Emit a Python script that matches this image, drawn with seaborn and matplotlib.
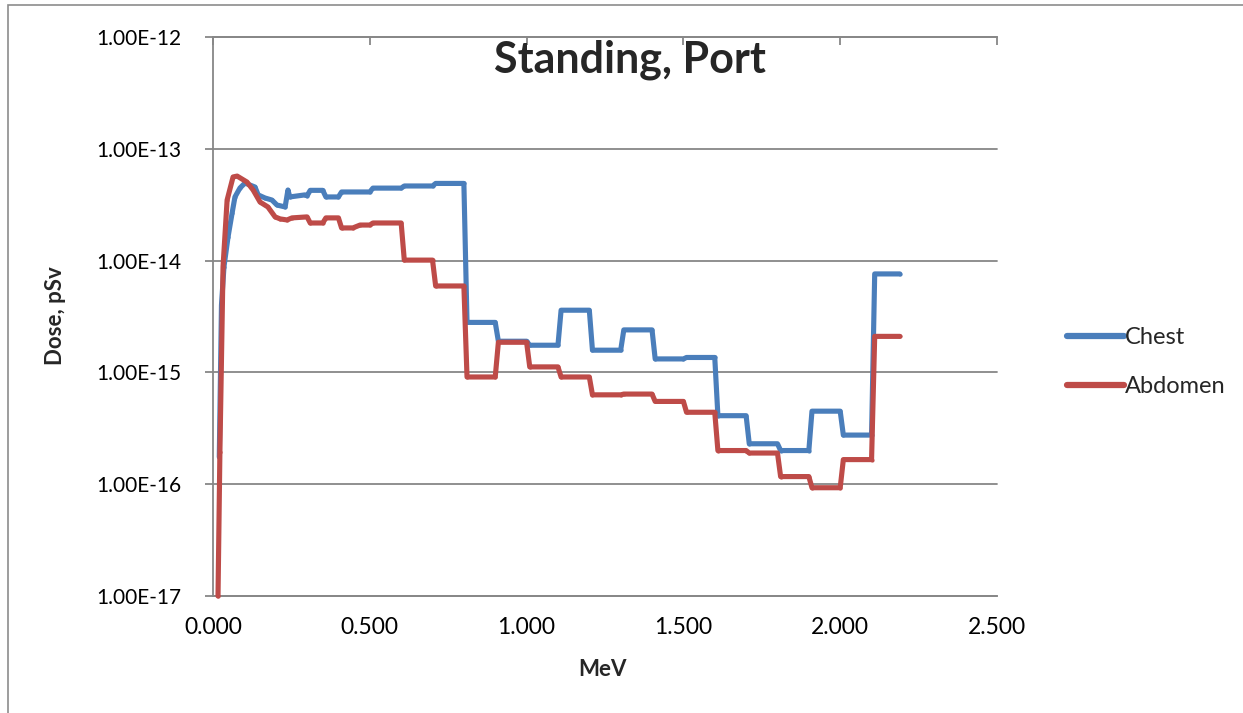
import matplotlib
matplotlib.use("Agg")
import matplotlib.pyplot as plt
import matplotlib.ticker as mticker
from matplotlib.patches import Rectangle
import seaborn as sns
import pandas as pd

# ---- data ----
chest_energy = [0.020, 0.027, 0.035, 0.048, 0.061, 0.070, 0.086, 0.102, 0.118, 0.134,
                0.144, 0.166, 0.188, 0.204, 0.230, 0.239, 0.245, 0.293, 0.300, 0.310,
                0.350, 0.360, 0.400, 0.410, 0.500, 0.510, 0.600, 0.610, 0.700, 0.710,
                0.800, 0.810, 0.900, 0.910, 1.000, 1.010, 1.100, 1.110, 1.200, 1.210,
                1.300, 1.310, 1.400, 1.410, 1.500, 1.510, 1.600, 1.610, 1.700, 1.710,
                1.800, 1.810, 1.900, 1.910, 2.000, 2.010, 2.100, 2.110, 2.190]
chest_dose = [1.75e-16, 4.0e-15, 8.8e-15, 1.63e-14, 2.67e-14, 3.71e-14, 4.46e-14, 4.94e-14, 4.74e-14, 4.55e-14,
              3.87e-14, 3.63e-14, 3.48e-14, 3.14e-14, 3.02e-14, 4.28e-14, 3.71e-14, 3.87e-14, 3.80e-14, 4.25e-14,
              4.25e-14, 3.71e-14, 3.71e-14, 4.11e-14, 4.11e-14, 4.45e-14, 4.45e-14, 4.65e-14, 4.65e-14, 4.90e-14,
              4.90e-14, 2.80e-15, 2.80e-15, 1.90e-15, 1.90e-15, 1.75e-15, 1.75e-15, 3.60e-15, 3.60e-15, 1.58e-15,
              1.58e-15, 2.40e-15, 2.40e-15, 1.32e-15, 1.32e-15, 1.36e-15, 1.36e-15, 4.10e-16, 4.10e-16, 2.30e-16,
              2.30e-16, 2.00e-16, 2.00e-16, 4.50e-16, 4.50e-16, 2.75e-16, 2.75e-16, 7.60e-15, 7.60e-15]

abdomen_energy = [0.016, 0.022, 0.032, 0.045, 0.064, 0.077, 0.108, 0.128, 0.150, 0.175,
                  0.198, 0.214, 0.236, 0.252, 0.300, 0.310, 0.350, 0.360, 0.400, 0.410,
                  0.446, 0.469, 0.500, 0.510, 0.600, 0.610, 0.700, 0.710, 0.800, 0.810,
                  0.900, 0.910, 1.000, 1.010, 1.100, 1.110, 1.200, 1.210, 1.300, 1.310,
                  1.400, 1.410, 1.500, 1.510, 1.600, 1.610, 1.700, 1.710, 1.800, 1.810,
                  1.900, 1.910, 2.000, 2.010, 2.100, 2.110, 2.190]
abdomen_dose = [1.0e-17, 1.94e-16, 8.8e-15, 3.48e-14, 5.6e-14, 5.7e-14, 5.05e-14, 4.28e-14, 3.34e-14, 3.02e-14,
                2.46e-14, 2.36e-14, 2.31e-14, 2.41e-14, 2.46e-14, 2.17e-14, 2.17e-14, 2.41e-14, 2.41e-14, 1.96e-14,
                1.96e-14, 2.08e-14, 2.08e-14, 2.17e-14, 2.17e-14, 1.01e-14, 1.01e-14, 5.93e-15, 5.93e-15, 9.1e-16,
                9.1e-16, 1.86e-15, 1.86e-15, 1.12e-15, 1.12e-15, 9.1e-16, 9.1e-16, 6.3e-16, 6.3e-16, 6.4e-16,
                6.4e-16, 5.5e-16, 5.5e-16, 4.4e-16, 4.4e-16, 2.0e-16, 2.0e-16, 1.9e-16, 1.9e-16, 1.17e-16,
                1.17e-16, 9.3e-17, 9.3e-17, 1.66e-16, 1.66e-16, 2.1e-15, 2.1e-15]

series_names = ["Chest", "Abdomen"]
series_colors = ["#4A7EBB", "#BE4B48"]
title_text = "Standing, Port"
x_label = "MeV"
y_label = "Dose, pSv"
x_ticks = [0.0, 0.5, 1.0, 1.5, 2.0, 2.5]
y_ticks = [1e-17, 1e-16, 1e-15, 1e-14, 1e-13, 1e-12]

df = pd.concat([
    pd.DataFrame({"MeV": chest_energy, "Dose": chest_dose, "Series": series_names[0]}),
    pd.DataFrame({"MeV": abdomen_energy, "Dose": abdomen_dose, "Series": series_names[1]}),
], ignore_index=True)

sns.set_style("white")
plt.rcParams["font.family"] = ["Lato", "DejaVu Sans"]

W, H = 1243, 713
fig = plt.figure(figsize=(W / 100, H / 100), dpi=100)
ax = fig.add_axes([213 / W, 1 - 596 / H, (997 - 213) / W, (596 - 37) / H])

grid_c = "#878787"
for yt in y_ticks:
    ax.axhline(yt, color=grid_c, lw=1.3, zorder=1)

sns.lineplot(data=df, x="MeV", y="Dose", hue="Series", hue_order=series_names,
             palette=series_colors, estimator=None, sort=False, lw=3.7,
             marker="o", markersize=3, markeredgewidth=0, ax=ax, legend=True, zorder=3)
for ln in ax.get_lines():
    ln.set_clip_on(False)
    ln.set_solid_capstyle("round")
    ln.set_solid_joinstyle("round")

ax.set_yscale("log")
ax.set_ylim(1e-17, 1e-12)
ax.set_xlim(0, 2.5)
ax.yaxis.set_major_locator(mticker.FixedLocator(y_ticks))
ax.yaxis.set_minor_locator(mticker.NullLocator())
ax.yaxis.set_major_formatter(mticker.FuncFormatter(lambda v, p: f"{v:.2E}"))
ax.xaxis.set_major_locator(mticker.FixedLocator(x_ticks))
ax.xaxis.set_major_formatter(mticker.FuncFormatter(lambda v, p: f"{v:.3f}"))

for s in ["left", "top", "bottom"]:
    ax.spines[s].set_color(grid_c)
    ax.spines[s].set_linewidth(1.3)
ax.spines["right"].set_visible(False)

ax.tick_params(axis="y", which="major", left=True, direction="out", length=6,
               width=1.3, color=grid_c, labelsize=15, pad=17, labelcolor="black")
ax.tick_params(axis="x", which="major", bottom=False, top=True, labelbottom=True,
               labeltop=False, direction="in", length=6, width=1.3, color=grid_c,
               labelsize=16.5, pad=15, labelcolor="black")

ax.set_xlabel("")
ax.set_ylabel("")
fig.text(603 / W, 1 - 670 / H, x_label, ha="center", va="center",
         fontsize=16, fontweight="bold")
fig.text(56 / W, 1 - 316 / H, y_label, ha="center", va="center",
         rotation=90, fontsize=16, fontweight="bold")
fig.text(630 / W, 1 - 60 / H, title_text, ha="center", va="center",
         fontsize=31, fontweight="bold")

handles, labels = ax.get_legend_handles_labels()
ax.legend(handles=handles, labels=labels, frameon=False, loc="center left",
          bbox_to_anchor=(1058 / W, 1 - 362 / H), bbox_transform=fig.transFigure,
          fontsize=17, handlelength=2.4, handletextpad=0.05, labelspacing=1.2,
          borderaxespad=0)
for lh in ax.get_legend().get_lines():
    lh.set_linewidth(4.5)
    lh.set_marker("")

fig.add_artist(Rectangle((8 / W, -0.05), 1.2, 1 - 5 / H + 0.05, transform=fig.transFigure,
                         fill=False, edgecolor="#8c8c8c", lw=1.2))

fig.savefig("out.png", dpi=100)
